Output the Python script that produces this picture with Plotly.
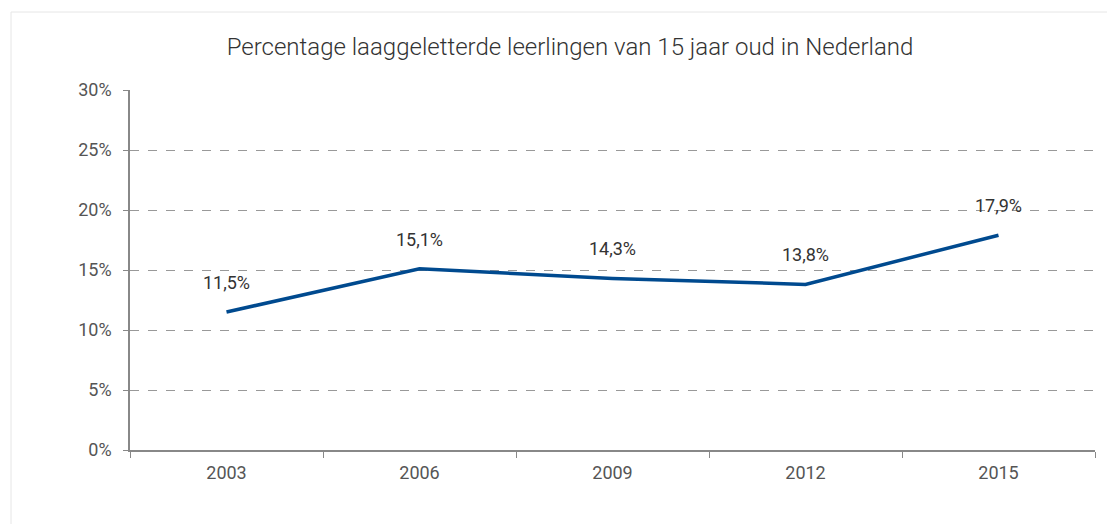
import plotly.graph_objects as go

years = ["2003", "2006", "2009", "2012", "2015"]
values = [11.5, 15.1, 14.3, 13.8, 17.9]
y_ticks = [0, 5, 10, 15, 20, 25, 30]
title = "Percentage laaggeletterde leerlingen van 15 jaar oud in Nederland"

PCT = "&#37;"
FONT = "Roboto"
OFF = 8  # page body margin
W, H = 1115 - 2 * OFF, 532 - 2 * OFF
ml, mt = 130 - OFF, 90 - OFF
mr = W - (1095 - OFF)
mb = H - (450 - OFF)
pw, ph = W - ml - mr, H - mt - mb

labels = [f"{v:.1f}".replace(".", ",") + PCT for v in values]

fig = go.Figure()
fig.add_trace(go.Scatter(
    x=years, y=values, mode="lines",
    line=dict(color="#004A8F", width=3.5),
    hoverinfo="skip", showlegend=False,
))
fig.add_trace(go.Scatter(
    x=years, y=values, mode="markers+text",
    text=labels, textposition="top center",
    textfont=dict(family=FONT, size=18, color="#333333"),
    marker=dict(size=28, color="rgba(0,0,0,0)"),
    hoverinfo="skip", showlegend=False, cliponaxis=False,
))

# faint outer frame
fig.add_shape(
    type="rect", xref="paper", yref="paper",
    x0=(11 - OFF - ml) / pw, x1=1.2, y0=-0.5, y1=1 + (mt - (12 - OFF)) / ph,
    line=dict(color="#E6E6E6", width=1), fillcolor="rgba(0,0,0,0)", layer="below",
)

fig.update_layout(
    width=W, height=H,
    margin=dict(l=ml, r=mr, t=mt, b=mb),
    paper_bgcolor="white", plot_bgcolor="white",
    title=dict(
        text=title, x=(570 - OFF - ml) / pw, xref="paper", xanchor="center",
        y=1 - (47 - OFF) / H, yanchor="middle",
        font=dict(family=FONT, size=24, color="#333333", weight=300),
    ),
    font=dict(family=FONT, size=18, color="#555555"),
)

fig.update_xaxes(
    type="category", tickson="boundaries", ticks="outside", ticklen=6,
    tickcolor="#888888", showline=True, linecolor="#888888", linewidth=1.5,
    showgrid=False, tickfont=dict(family=FONT, size=18, color="#555555"),
    ticklabelstandoff=6, range=[-0.5, 4.5],
)
fig.update_yaxes(
    range=[0, 30], tickvals=y_ticks, ticktext=[f"{t}{PCT}" for t in y_ticks],
    ticks="outside", ticklen=5, tickcolor="#888888",
    showline=True, linecolor="#888888", linewidth=1.5,
    showgrid=True, gridcolor="#999999", griddash="dash", gridwidth=1,
    zeroline=False, tickfont=dict(family=FONT, size=18, color="#555555"),
    ticklabelstandoff=8,
)

fig.write_html("out.html")
